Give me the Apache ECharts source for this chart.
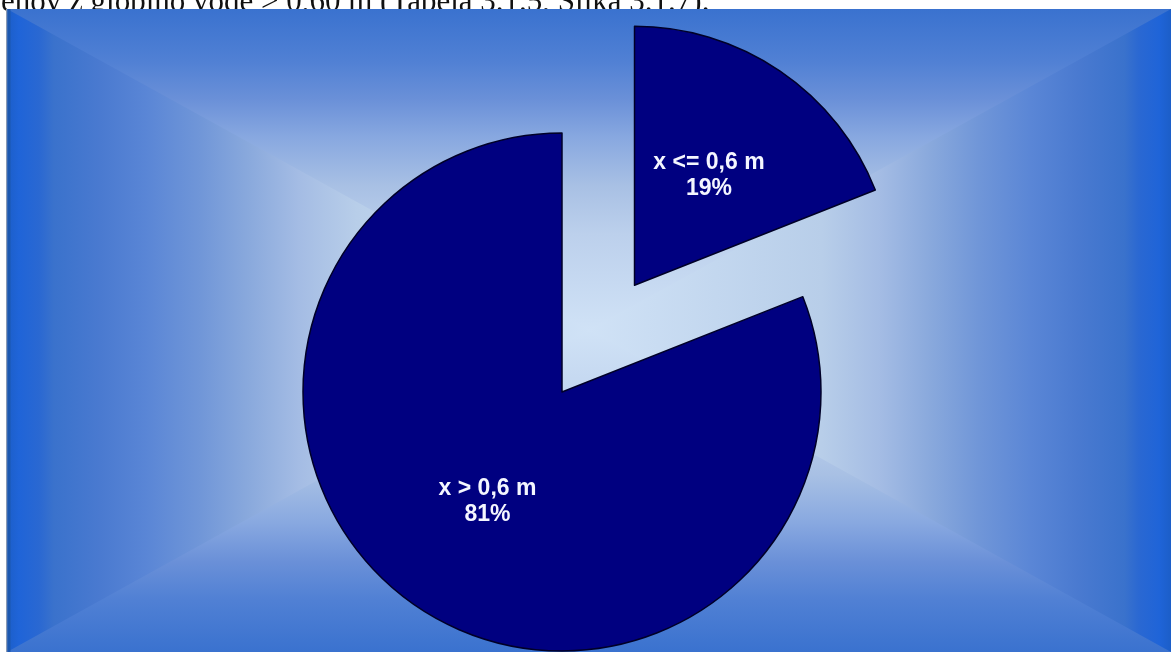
<!DOCTYPE html>
<html>
<head>
<meta charset="utf-8">
<script src="https://cdn.jsdelivr.net/npm/echarts@6/dist/echarts.min.js"></script>
<style>
html, body { margin: 0; padding: 0; background: #fff; }
#chart { width: 1171px; height: 652px; }
</style>
</head>
<body>
<div id="chart"></div>
<script>
// pie data
const categories = ['x <= 0,6 m', 'x > 0,6 m']
const values = [19, 81]
const pulledOut = [true, false]
const captionText = 'enov z globino vode > 0,60 m (Tabela 3.1.5, Slika 3.1.7).'

// background: rectangular gradient, edge -> centre
const sideStops = [
    [0, '#1c5ec8'], [0.02, '#1f64d8'], [0.055, '#2a68d2'], [0.08, '#3a72cc'], [0.16, '#4a7ad0'],
    [0.24, '#5a86d6'], [0.33, '#7096d8'], [0.41, '#88a8dc'], [0.5, '#a4bce4'],
    [0.6, '#b8cee9'], [1, '#d0e2f6']
]
const topStops = [
    [0, '#3a72cf'], [0.16, '#5080d4'], [0.28, '#6a90d8'], [0.4, '#88a8e0'],
    [0.55, '#a8c0e4'], [0.7, '#bcd0ec'], [1, '#d0e2f6']
]
const box = { x1: 7, y1: 9, x2: 1171, y2: 652, cx: 589, cy: 330 }

function grad (stops, x, y, x2, y2) {
    return {
        type: 'linear', x: x, y: y, x2: x2, y2: y2,
        colorStops: stops.map(s => ({ offset: s[0], color: s[1] }))
    }
}

const myChart = echarts.init(document.getElementById('chart'))

const option = {
    animation: false,
    backgroundColor: '#ffffff',
    graphic: [
        {
            type: 'text', left: 1, top: -13, z: -10,
            style: { text: captionText, font: '31px serif', fill: '#111' }
        },
        // left / right halves
        { type: 'rect', z: -9, shape: { x: box.x1, y: box.y1, width: box.cx - box.x1 + 1, height: box.y2 - box.y1 }, style: { fill: grad(sideStops, 0, 0, 1, 0) } },
        { type: 'rect', z: -9, shape: { x: box.cx, y: box.y1, width: box.x2 - box.cx, height: box.y2 - box.y1 }, style: { fill: grad(sideStops, 1, 0, 0, 0) } },
        // top
        { type: 'polygon', z: -8, shape: { points: [[box.x1, box.y1], [box.x2, box.y1], [box.cx, box.cy]] }, style: { fill: grad(topStops, 0, 0, 0, 1) } },
        // bottom
        { type: 'polygon', z: -8, shape: { points: [[box.x1, box.y2], [box.x2, box.y2], [box.cx, box.cy]] }, style: { fill: grad(topStops, 0, 1, 0, 0) } },
        { type: 'rect', z: -7, shape: { x: 6, y: box.y1, width: 1.5, height: box.y2 - box.y1 }, style: { fill: '#8a9ab4' } },
        { type: 'rect', z: -7, shape: { x: 7.5, y: box.y1, width: 3, height: box.y2 - box.y1 }, style: { fill: '#1c58b0' } }
    ],
    series: [
        {
            type: 'pie',
            center: [562, 392],
            radius: 259,
            startAngle: 90,
            clockwise: true,
            selectedMode: 'single',
            selectedOffset: 129,
            silent: true,
            emphasis: { disabled: true },
            itemStyle: { color: '#000080', borderColor: '#000028', borderWidth: 1.5 },
            label: {
                show: true,
                position: 'inside',
                formatter: '{b}\n{d}%',
                color: '#f4f6ff',
                fontFamily: 'Arial',
                fontWeight: 'bold',
                fontSize: 23,
                lineHeight: 26,
                align: 'center'
            },
            labelLine: { show: false },
            data: categories.map((c, i) => ({ name: c, value: values[i], selected: pulledOut[i] }))
        }
    ]
}

myChart.setOption(option)
</script>
</body>
</html>
